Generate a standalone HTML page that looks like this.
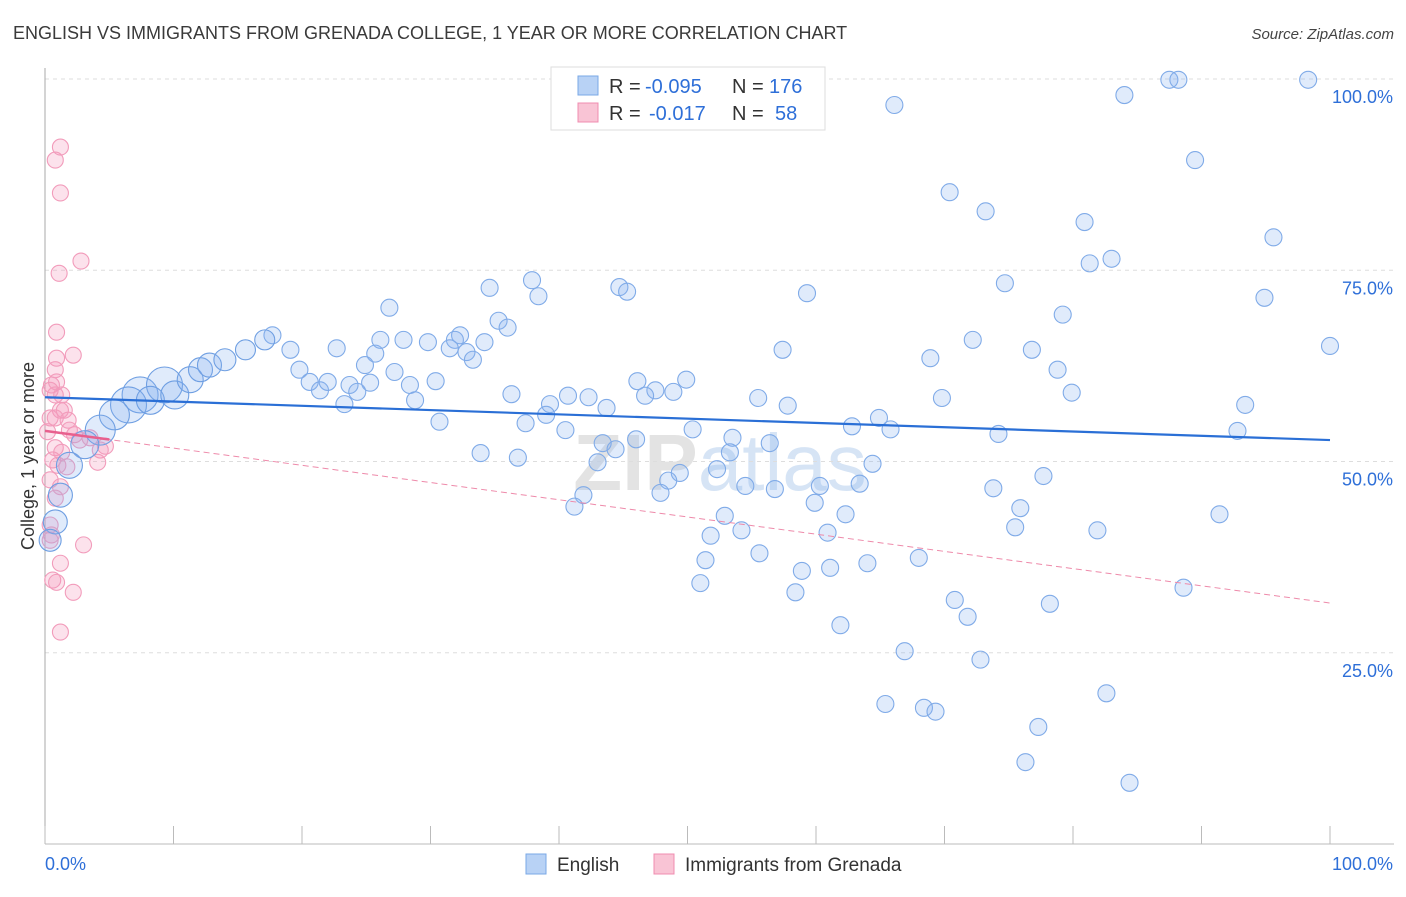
<!DOCTYPE html>
<html><head><meta charset="utf-8"><style>
body{margin:0;background:#fff;font-family:"Liberation Sans",sans-serif}
svg text{font-family:"Liberation Sans",sans-serif}
</style></head><body>
<svg id="chart" width="1406" height="892" xmlns="http://www.w3.org/2000/svg">
<text x="13" y="39" font-size="18" fill="#3a3a3a">ENGLISH VS IMMIGRANTS FROM GRENADA COLLEGE, 1 YEAR OR MORE CORRELATION CHART</text>
<text x="1394" y="39" font-size="15" fill="#444" text-anchor="end" font-style="italic">Source: ZipAtlas.com</text>
<text x="720" y="490" font-size="80" fill="#e3e3e3" text-anchor="middle" font-weight="bold" font-family="Liberation Serif">ZIP<tspan font-family="Liberation Sans" font-weight="normal" fill="#d6e4f5">atlas</tspan></text>
<g id="grid"></g>
<g id="axes"></g>
<g id="pink"></g>
<g id="blue"></g>
<g id="trends"></g>
<text transform="translate(34,456) rotate(-90)" font-size="18" fill="#333" text-anchor="middle">College, 1 year or more</text>
<g>
<rect x="551" y="67" width="274" height="63" fill="#fff" stroke="#ddd"/>
<rect x="578" y="76" width="20" height="19" fill="#b8d2f5" stroke="#7aa8e6"/>
<rect x="578" y="103" width="20" height="19" fill="#f9c4d5" stroke="#f08cb0"/>
<text x="609" y="93" font-size="20" fill="#333">R =</text>
<text x="645" y="93" font-size="20" fill="#2e6fd8">-0.095</text>
<text x="732" y="93" font-size="20" fill="#333">N =</text>
<text x="769" y="93" font-size="20" fill="#2e6fd8">176</text>
<text x="609" y="120" font-size="20" fill="#333">R =</text>
<text x="649" y="120" font-size="20" fill="#2e6fd8">-0.017</text>
<text x="732" y="120" font-size="20" fill="#333">N =</text>
<text x="775" y="120" font-size="20" fill="#2e6fd8">58</text>
</g>
<g>
<rect x="526" y="854" width="20" height="20" fill="#b8d2f5" stroke="#7aa8e6"/>
<text x="557" y="871" font-size="19" fill="#333">English</text>
<rect x="654" y="854" width="20" height="20" fill="#f9c4d5" stroke="#f08cb0"/>
<text x="685" y="871" font-size="19" fill="#333">Immigrants from Grenada</text>
</g>
</svg>
<script>
const yTicks=[25,50,75,100];
const yTickLabels=["25.0%","50.0%","75.0%","100.0%"];
const xTicks=[0,10,20,30,40,50,60,70,80,90,100];
const blueBigX=[7.4,9.3,6.5,5.4,4.3,3.1,1.9,1.2,0.8,0.4,8.2,10.1,11.3,12.1,12.8,14.0,15.6,17.1];
const blueBigY=[58.7,60.0,57.4,56.1,54.1,52.2,49.5,45.6,42.1,39.7,58.0,58.7,60.7,62.0,62.6,63.3,64.6,65.9];
const blueBigR=[18,18,18,15,15,14,13,12,12,11,14,14,13,12,12,11,10,10];
const blueX=[66.1,84.0,87.5,88.2,98.3,89.5,70.4,73.2,80.9,95.6,83.0,81.3,74.7,94.9,79.2,37.9,34.6,38.4,44.7,45.3,59.3,26.8,35.3,36.0,32.3,31.9,34.2,26.1,27.9,29.8,31.5,22.7,25.7,32.8,33.3,57.4,72.2,76.8,100,68.9,78.8,19.1,17.7,19.8,20.6,21.4,22.0,23.7,24.9,25.3,24.3,27.2,28.4,30.4,23.3,28.8,30.7,36.3,39.3,40.7,42.3,39.0,37.4,40.5,46.1,47.5,46.7,48.9,49.9,43.7,55.5,57.8,69.8,79.9,93.4,33.9,36.8,43.4,43.0,44.4,46.0,50.4,53.5,53.3,56.4,62.8,64.9,65.8,74.2,92.8,64.4,49.4,52.3,48.5,47.9,54.5,56.8,60.3,63.4,59.9,41.9,41.2,52.9,51.8,62.3,73.8,77.7,75.9,75.5,81.9,91.4,54.2,55.6,51.4,51.0,60.9,68.0,64.0,58.9,61.1,58.4,61.9,70.8,71.8,78.2,88.6,66.9,72.8,65.4,68.4,69.3,82.6,77.3,76.3,84.4];
const blueY=[96.6,97.9,99.9,99.9,99.9,89.4,85.2,82.7,81.3,79.3,76.5,75.9,73.3,71.4,69.2,73.7,72.7,71.6,72.8,72.2,72.0,70.1,68.4,67.5,66.5,65.9,65.6,65.9,65.9,65.6,64.8,64.8,64.1,64.3,63.3,64.6,65.9,64.6,65.1,63.5,62.0,64.6,66.5,62.0,60.4,59.3,60.4,60.0,62.6,60.3,59.1,61.7,60.0,60.5,57.5,58.0,55.2,58.8,57.5,58.6,58.4,56.1,55.0,54.1,60.5,59.3,58.6,59.1,60.7,57.0,58.3,57.3,58.3,59.0,57.4,51.1,50.5,52.4,49.9,51.6,52.9,54.2,53.1,51.2,52.4,54.6,55.7,54.2,53.6,54.0,49.7,48.5,49.0,47.5,45.9,46.8,46.4,46.8,47.1,44.6,45.6,44.1,42.9,40.3,43.1,46.5,48.1,43.9,41.4,41.0,43.1,41.0,38.0,37.1,34.1,40.7,37.4,36.7,35.7,36.1,32.9,28.6,31.9,29.7,31.4,33.5,25.2,24.1,18.3,17.8,17.3,19.7,15.3,10.7,8.0];
const pinkX=[1.2,0.8,1.2,2.8,1.1,0.9,2.2,0.9,0.8,0.5,0.9,0.4,0.8,1.2,1.5,0.4,0.8,1.8,0.2,2.3,2.7,4.7,0.8,1.3,0.6,1.0,4.1,1.7,0.4,1.2,0.8,0.4,0.5,3.0,0.4,1.2,0.6,0.9,2.2,1.2,1.3,1.9,3.5,4.3];
const pinkY=[91.1,89.4,85.1,76.2,74.6,66.9,63.9,63.5,62.0,60.0,60.4,59.3,58.7,56.7,56.7,55.7,55.7,55.4,53.9,53.5,52.8,52.0,51.8,51.2,50.2,49.5,49.9,49.3,47.6,46.7,45.2,41.7,40.4,39.1,39.7,36.7,34.5,34.2,32.9,27.7,58.7,54.1,53.1,51.5];
const blueTrend=[58.4,52.8];   // y at x=0 and x=100
const pinkTrend=[54.0,31.5];   // y at x=0 and x=100
const NS="http://www.w3.org/2000/svg";
const X0=45,X1=1330,Y0=844,Y100=79;
function sx(v){return X0+(X1-X0)*v/100;}
function sy(v){return Y0-(Y0-Y100)*v/100;}
function mk(tag,attrs,parent){const e=document.createElementNS(NS,tag);for(const k in attrs)e.setAttribute(k,attrs[k]);parent.appendChild(e);return e;}
const grid=document.getElementById('grid'),axes=document.getElementById('axes');
yTicks.forEach((t,i)=>{
  const l=mk('line',{x1:X0,x2:1394,y1:sy(t),y2:sy(t),stroke:'#ddd','stroke-dasharray':'4,4'},grid);
  
  
  const tx=mk('text',{x:1393,y:sy(t)+24,'font-size':18,fill:'#2e6fd8','text-anchor':'end'},grid);
  tx.textContent=yTickLabels[i];
  
  
});
const xa=mk('line',{x1:X0,x2:1394,y1:Y0,y2:Y0,stroke:'#bbb'},axes);


const ya=mk('line',{x1:X0,x2:X0,y1:68,y2:Y0,stroke:'#aaa'},axes);


xTicks.forEach(t=>{
  const l=mk('line',{x1:sx(t),x2:sx(t),y1:826,y2:Y0,stroke:'#bbb'},axes);
  
  
});
const xl0=mk('text',{x:45,y:870,'font-size':18,fill:'#2e6fd8'},axes);xl0.textContent='0.0%';


const xl1=mk('text',{x:1393,y:870,'font-size':18,fill:'#2e6fd8','text-anchor':'end'},axes);xl1.textContent='100.0%';


const pg=document.getElementById('pink');
pinkX.forEach((x,i)=>{
  const c=mk('circle',{cx:sx(x),cy:sy(pinkY[i]),r:8,fill:'rgba(245,150,185,0.28)',stroke:'#f29cbb','stroke-width':1.1},pg);
  
  
});
const bg=document.getElementById('blue');
blueX.forEach((x,i)=>{
  const c=mk('circle',{cx:sx(x),cy:sy(blueY[i]),r:8.5,fill:'rgba(130,175,240,0.25)',stroke:'#80abe8','stroke-width':1.1},bg);
  
  
});
blueBigX.forEach((x,i)=>{
  const c=mk('circle',{cx:sx(x),cy:sy(blueBigY[i]),r:blueBigR[i],fill:'rgba(130,175,240,0.25)',stroke:'#6f9fe2','stroke-width':1.1},bg);
  
  
});
const tg=document.getElementById('trends');
const pl=mk('line',{x1:sx(0),y1:sy(pinkTrend[0]),x2:sx(100),y2:sy(pinkTrend[1]),stroke:'#ee8aaa','stroke-width':1,'stroke-dasharray':'6,4'},tg);


const ps=mk('line',{x1:sx(0),y1:sy(pinkTrend[0]),x2:sx(5),y2:sy(pinkTrend[0]+(pinkTrend[1]-pinkTrend[0])*0.05),stroke:'#e8608e','stroke-width':2.5},tg);


const bl=mk('line',{x1:sx(0),y1:sy(blueTrend[0]),x2:sx(100),y2:sy(blueTrend[1]),stroke:'#2a6fd6','stroke-width':2.2},tg);


</script>
</body></html>
